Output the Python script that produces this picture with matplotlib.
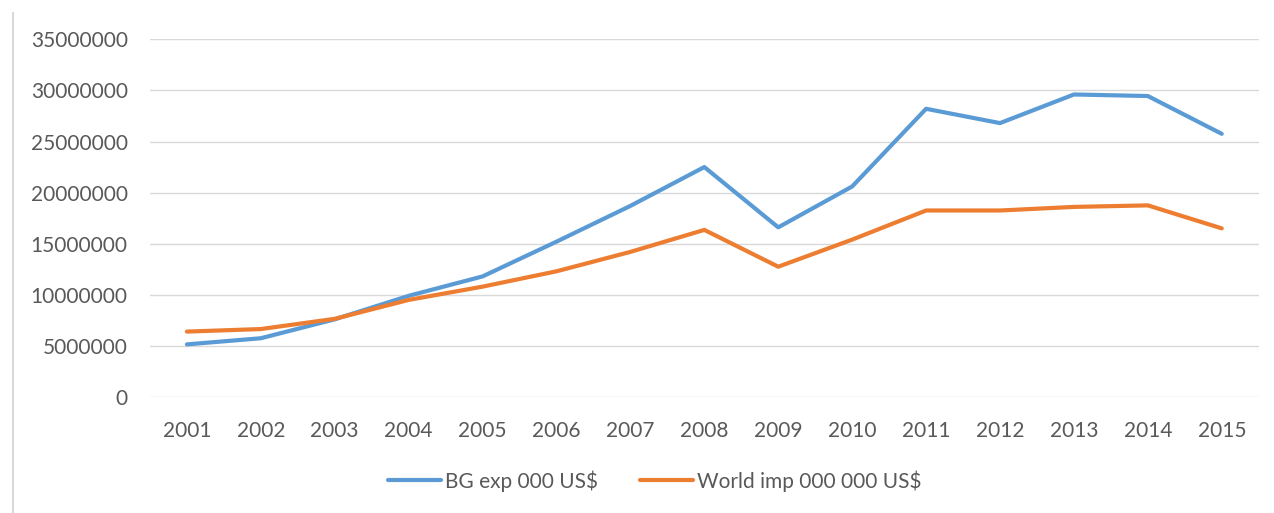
import matplotlib
matplotlib.use("Agg")
import matplotlib.pyplot as plt
from matplotlib.lines import Line2D

years = ["2001", "2002", "2003", "2004", "2005", "2006", "2007", "2008",
         "2009", "2010", "2011", "2012", "2013", "2014", "2015"]
bg_exp = [5150000, 5750000, 7600000, 9900000, 11800000, 15200000, 18700000, 22500000,
          16600000, 20600000, 28200000, 26800000, 29600000, 29450000, 25750000]
world_imp = [6400000, 6650000, 7650000, 9500000, 10800000, 12300000, 14200000, 16350000,
             12750000, 15400000, 18250000, 18250000, 18600000, 18750000, 16500000]
yticks = [0, 5000000, 10000000, 15000000, 20000000, 25000000, 30000000, 35000000]
series_names = ["BG exp 000 US$", "World imp 000 000 US$"]

plt.rcParams['font.family'] = ['Lato', 'DejaVu Sans']
txt = '#595959'

fig = plt.figure(figsize=(12.74, 5.13), dpi=100)
ax = fig.add_axes([0.1177, 0.2261, 0.9880 - 0.1177, 0.9234 - 0.2261])

x = list(range(len(years)))
l1, = ax.plot(x, bg_exp, color='#5B9BD5', lw=3.0, solid_capstyle='round', solid_joinstyle='round')
l2, = ax.plot(x, world_imp, color='#ED7D31', lw=3.0, solid_capstyle='round', solid_joinstyle='round')

ax.set_xlim(-0.5, len(years) - 0.5)
ax.set_ylim(0, 35000000)
ax.set_yticks(yticks)
ax.set_yticklabels([str(v) for v in yticks])
ax.set_xticks(x)
ax.set_xticklabels(years)
ax.yaxis.grid(True, color='#D9D9D9', lw=1.0)
ax.set_axisbelow(True)
for s in ax.spines.values():
    s.set_visible(False)
ax.tick_params(axis='both', length=0, colors=txt, labelsize=15)
ax.tick_params(axis='y', pad=16)
ax.tick_params(axis='x', pad=17)

fig.legend([l1, l2], series_names, loc='center', bbox_to_anchor=(655 / 1274, 1 - 481 / 513),
           ncol=2, frameon=False, fontsize=15, handlelength=2.55, handletextpad=0.2,
           columnspacing=2.0, labelcolor=txt)

fig.add_artist(Line2D([12.5 / 1274, 12.5 / 1274], [0, 1 - 13 / 513], transform=fig.transFigure,
                      color='#D9D9D9', lw=1.5))

fig.savefig('out.png', dpi=100)
